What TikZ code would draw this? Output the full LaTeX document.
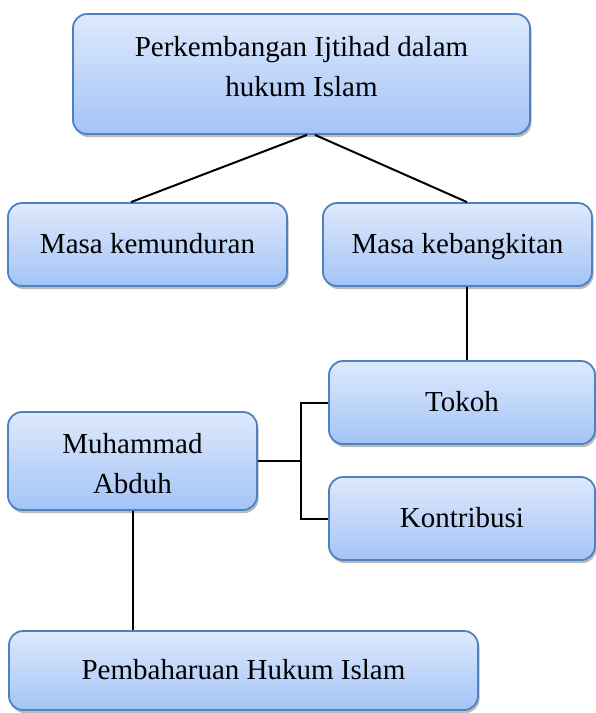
\documentclass[tikz,border=0pt]{standalone}
\usepackage{fontspec}
\setmainfont{Liberation Serif}
\usetikzlibrary{shadows,positioning,calc}
\definecolor{garisbiru}{RGB}{79,129,189}
\definecolor{biruatas}{RGB}{222,233,252}
\definecolor{birubawah}{RGB}{163,196,247}
\tikzset{
  kotak/.style={draw=garisbiru, line width=1.8pt, rounded corners=14pt,
    top color=biruatas, bottom color=birubawah, align=center,
    font=\fontsize{29}{40}\selectfont, text height=24pt, text depth=7pt,
    drop shadow={shadow xshift=1.5pt, shadow yshift=-3pt, fill=black!60, opacity=.45}},
  hubung/.style={line width=2pt, black}
}

\begin{document}
\begin{tikzpicture}[x=1pt,y=-1pt]
\useasboundingbox (0,0) rectangle (596,713);
% kotak-kotak
\node[kotak, minimum width=457pt, minimum height=120pt, text height=60pt, text depth=16pt] (judul) at (301.5,74)
  {Perkembangan Ijtihad dalam\\hukum Islam};
\node[kotak, minimum width=279pt, minimum height=83pt] (mundur) at (147.5,244.5) {Masa kemunduran};
\node[kotak, minimum width=269pt, minimum height=83pt] (bangkit) at (457.5,244.5) {Masa kebangkitan};
\node[kotak, minimum width=266pt, minimum height=83pt] (tokoh) at (462,402.5) {Tokoh};
\node[kotak, minimum width=266pt, minimum height=83pt] (kontribusi) at (462,518.5) {Kontribusi};
\node[kotak, minimum width=249pt, minimum height=98pt, text height=68pt, text depth=4pt] (abduh) at (132.5,461) {Muhammad\\Abduh};
\node[kotak, minimum width=469pt, minimum height=79pt] (pembaharuan) at (243.5,670.5) {Pembaharuan Hukum Islam};
\coordinate (cabang) at (301,461);
% garis penghubung
\draw[hubung] ([xshift=5.5pt]judul.south) -- ([xshift=-16.5pt]mundur.north);
\draw[hubung] ([xshift=13.5pt]judul.south) -- ([xshift=9.5pt]bangkit.north);
\draw[hubung] ([xshift=9.5pt]bangkit.south) -- ([xshift=9.5pt]bangkit.south |- tokoh.north);
\draw[hubung] (abduh.east) -- (cabang);
\draw[hubung] (tokoh.west) -| (cabang) |- (kontribusi.west);
\draw[hubung] (abduh.south) -- (abduh.south |- pembaharuan.north);
\end{tikzpicture}
\end{document}
